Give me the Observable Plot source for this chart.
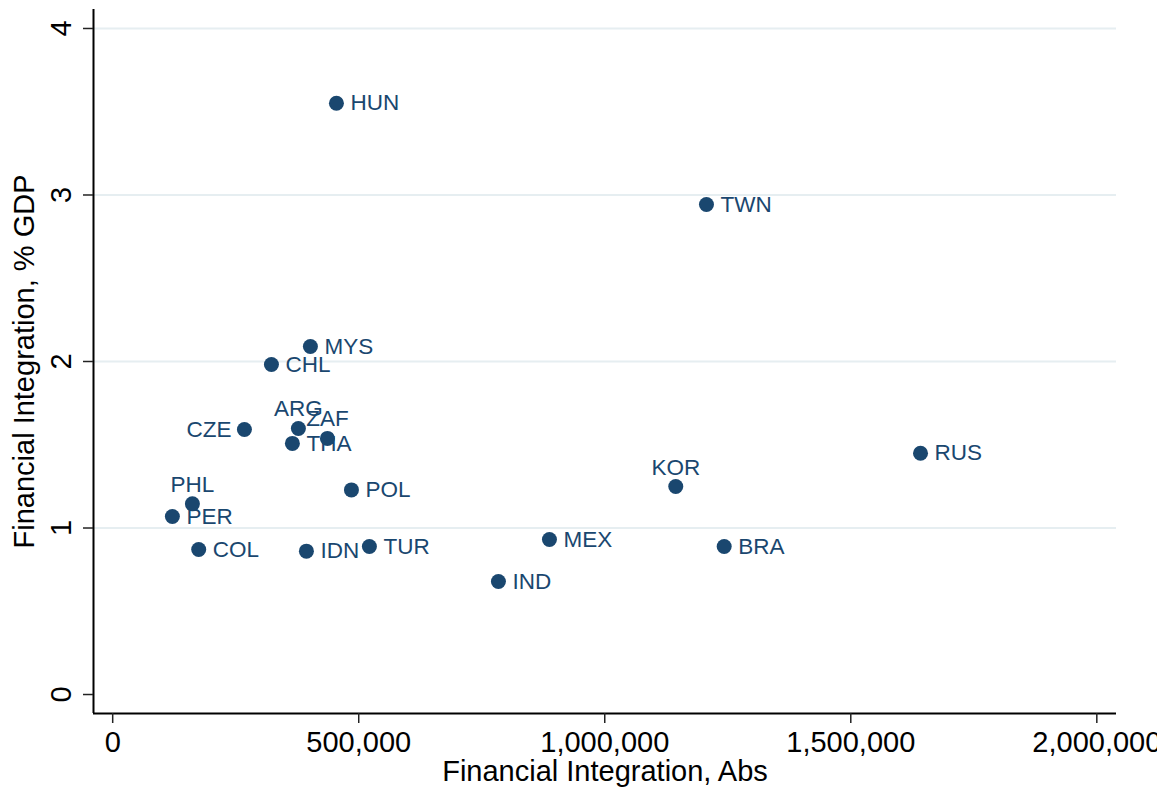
<!DOCTYPE html>
<html><head><meta charset="utf-8">
<script src="https://cdn.jsdelivr.net/npm/d3@7"></script>
<script src="https://cdn.jsdelivr.net/npm/@observablehq/plot@0.6"></script>
<style>html,body{margin:0;padding:0;background:#fff;overflow:hidden;}</style>
</head><body><div id="chart"></div>
<script>
const countries = ["HUN","TWN","MYS","CHL","ARG","ZAF","CZE","THA","RUS","KOR","POL","PHL","PER","COL","IDN","TUR","MEX","BRA","IND"];
const finIntAbs = [454700,1206700,401800,322600,377400,436400,267700,365200,1641700,1144300,485200,162000,121300,174800,393700,521700,887600,1242700,783900];
const finIntGDP = [3.551,2.943,2.09,1.982,1.598,1.538,1.592,1.508,1.449,1.249,1.229,1.145,1.069,0.871,0.861,0.889,0.931,0.889,0.679];
const labelPos = [3,3,3,3,12,12,9,3,3,12,3,12,3,3,3,3,3,3,3];
const xTicks = [0,500000,1000000,1500000,2000000];
const yTicks = [0,1,2,3,4];
const yGrid = [1,2,3,4];
const xTitle = "Financial Integration, Abs";
const yTitle = "Financial Integration, % GDP";

const data = countries.map((c,i) => ({c, x: finIntAbs[i], y: finIntGDP[i], pos: labelPos[i]}));
const xDom = [-39000, 2040000];
const yDom = [-0.114, 4.114];
const navy = "#1a476f";
const font = "'Liberation Sans', Arial, Helvetica, sans-serif";

const chart = Plot.plot({
  width: 1157, height: 792,
  marginLeft: 93, marginRight: 41, marginTop: 9, marginBottom: 79,
  style: {fontFamily: font, fontSize: "29px", background: "#fff", color: "#000"},
  x: {domain: xDom, axis: null},
  y: {domain: yDom, axis: null},
  marks: [
    Plot.ruleY(yGrid, {stroke: "#e6eef1", strokeWidth: 2}),
    Plot.ruleX([xDom[0]], {stroke: "#000", strokeWidth: 2}),
    Plot.ruleY([yDom[0]], {stroke: "#000", strokeWidth: 2}),
    Plot.axisX({ticks: xTicks, tickSize: 10, tickPadding: 8, tickFormat: d3.format(","), fontSize: 29, stroke: "#222", strokeWidth: 1.5, label: null, fill: "#000"}),
    Plot.axisY({ticks: yTicks, tickSize: 10, tickFormat: () => "", stroke: "#222", strokeWidth: 1.5, label: null}),
    Plot.text(yTicks, {y: d => d, frameAnchor: "left", text: d => String(d), dx: -23, rotate: -90, textAnchor: "middle", lineAnchor: "bottom", fontSize: 29, fill: "#000"}),
    Plot.text([xTitle], {frameAnchor: "bottom", text: d => d, dy: 67.5, lineAnchor: "bottom", textAnchor: "middle", fontSize: 29, fill: "#000"}),
    Plot.text([yTitle], {frameAnchor: "left", text: d => d, dx: -60, rotate: -90, lineAnchor: "bottom", textAnchor: "middle", fontSize: 29, fill: "#000"}),
    Plot.dot(data, {x: "x", y: "y", r: 7.5, fill: navy, stroke: "none"}),
    Plot.text(data.filter(d => d.pos === 3), {x: "x", y: "y", text: "c", textAnchor: "start", lineAnchor: "middle", dx: 14, fontSize: 22.5, fill: navy}),
    Plot.text(data.filter(d => d.pos === 12), {x: "x", y: "y", text: "c", textAnchor: "middle", lineAnchor: "bottom", dy: -12, fontSize: 22.5, fill: navy}),
    Plot.text(data.filter(d => d.pos === 9), {x: "x", y: "y", text: "c", textAnchor: "end", lineAnchor: "middle", dx: -13, fontSize: 22.5, fill: navy})
  ]
});
document.getElementById("chart").appendChild(chart);
</script>
</body></html>
